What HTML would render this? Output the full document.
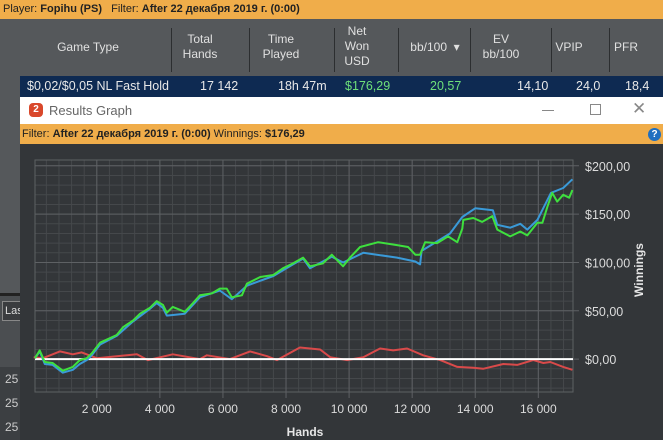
<!DOCTYPE html>
<html><head><meta charset="utf-8">
<style>
body{margin:0;width:663px;height:440px;overflow:hidden;background:#55585b;font-family:"Liberation Sans","Noto Sans CJK SC",sans-serif;position:relative}
.abs{position:absolute}
.hdr{color:#e0e0e0;font-size:12px;line-height:15px;text-align:center}
.cell{position:absolute;top:79px;font-size:12.5px;color:#e8e8e8;white-space:nowrap}
.vl{position:absolute;top:28px;width:1px;height:44px;background:#2c2e30}
</style></head><body>
<div class="abs" style="left:0;top:0;width:663px;height:19px;background:#f0ad4a;font-size:11px;line-height:19px;color:#222;padding-left:3px">Player: <b>Fopihu (PS)</b>&nbsp;&nbsp; Filter: <b>After 22 декабря 2019 г. (0:00)</b></div>
<div class="abs" style="left:2px;top:20px;width:14px;height:32px;background:#111;color:#eee;font-size:9px;writing-mode:vertical-rl;transform:rotate(180deg);text-align:center;font-weight:bold">Stats</div>
<div class="abs" style="left:0;top:19px;width:20px;height:274px;background:#55585b"></div>
<div class="abs" style="left:0;top:293px;width:20px;height:3px;background:#222"></div>
<div class="abs" style="left:0;top:296px;width:20px;height:71px;background:#4b4e51"></div>
<div class="abs" style="left:0;top:367px;width:20px;height:73px;background:#3c3f42"></div>
<div class="abs" style="left:2px;top:301px;width:18px;height:18px;border:1px solid #888;border-right:none;background:#3a3c3f;color:#ddd;font-size:11px;line-height:18px;padding-left:2px;overflow:hidden">Las</div>
<div class="abs" style="left:5px;top:372px;color:#ccc;font-size:12px">25</div>
<div class="abs" style="left:5px;top:396px;color:#ccc;font-size:12px">25</div>
<div class="abs" style="left:5px;top:420px;color:#ccc;font-size:12px">25</div>

<div class="vl" style="left:171px"></div><div class="vl" style="left:249px"></div><div class="vl" style="left:334px"></div><div class="vl" style="left:398px"></div><div class="vl" style="left:470px"></div><div class="vl" style="left:551px"></div><div class="vl" style="left:609px"></div>
<div class="abs hdr" style="left:38px;top:40px;width:100px">Game Type</div>
<div class="abs hdr" style="left:170px;top:32px;width:60px">Total<br>Hands</div>
<div class="abs hdr" style="left:251px;top:32px;width:60px">Time<br>Played</div>
<div class="abs hdr" style="left:332px;top:24px;width:50px">Net<br>Won<br>USD</div>
<div class="abs hdr" style="left:400px;top:40px;width:70px">bb/100 &nbsp;▾</div>
<div class="abs hdr" style="left:471px;top:32px;width:60px">EV<br>bb/100</div>
<div class="abs hdr" style="left:549px;top:40px;width:40px">VPIP</div>
<div class="abs hdr" style="left:611px;top:40px;width:30px">PFR</div>

<div class="abs" style="left:20px;top:76px;width:643px;height:21px;background:#0e2a52"></div>
<div class="cell" style="left:27px">$0,02/$0,05 NL Fast Hold</div>
<div class="cell" style="left:200px">17 142</div>
<div class="cell" style="left:278px">18h 47m</div>
<div class="cell" style="left:345px;color:#6ee07a">$176,29</div>
<div class="cell" style="left:430px;color:#6ee07a">20,57</div>
<div class="cell" style="left:517px">14,10</div>
<div class="cell" style="left:576px">24,0</div>
<div class="cell" style="left:625px">18,4</div>

<div class="abs" style="left:20px;top:97px;width:643px;height:27px;background:#fff"></div>
<div class="abs" style="left:29px;top:103px;width:14px;height:14px;border-radius:4px;background:#d9482b;color:#fff;font-size:10px;font-weight:bold;text-align:center;line-height:14px">2</div>
<div class="abs" style="left:49px;top:103px;font-size:13px;color:#666">Results Graph</div>
<div class="abs" style="left:542px;top:110px;width:12px;height:1px;background:#888"></div>
<div class="abs" style="left:590px;top:104px;width:9px;height:9px;border:1px solid #888"></div>
<div class="abs" style="left:632px;top:99px;font-size:17px;color:#888">✕</div>
<div class="abs" style="left:20px;top:124px;width:643px;height:20px;background:#f0ad4a;font-size:11px;line-height:20px;color:#222;padding-left:2px">Filter: <b>After 22 декабря 2019 г. (0:00)</b> Winnings: <b>$176,29</b></div>
<div class="abs" style="left:648px;top:128px;width:13px;height:13px;border-radius:50%;background:#1f6fc0;color:#fff;font-size:10px;font-weight:bold;text-align:center;line-height:13px">?</div>

<svg class="abs" style="left:20px;top:144px" width="643" height="296">
<rect x="0" y="0" width="643" height="296" fill="#333639"/>
<g id="grid" transform="translate(-20,-144)"></g>
<g id="plot" transform="translate(-20,-144)"></g>
</svg>
<script>
const xTicks=[2000,4000,6000,8000,10000,12000,14000,16000];
const xTickLabels=['2 000','4 000','6 000','8 000','10 000','12 000','14 000','16 000'];
const yTicks=[0,50,100,150,200];
const yTickLabels=['$0,00','$50,00','$100,00','$150,00','$200,00'];
const greenHands=[40,190,350,600,920,1240,1460,1680,1840,2100,2300,2630,2830,3150,3370,3680,3900,4100,4220,4410,4790,5050,5270,5650,5900,6120,6280,6600,6760,7180,7600,7900,8220,8540,8760,9170,9450,9810,10030,10350,10920,11520,11870,12100,12250,12410,12790,13140,13430,13590,13620,13940,14220,14540,14700,15110,15430,15650,15970,16130,16290,16440,16600,16790,16980,17080];
const greenValues=[1,9,-3,-4,-12,-8,-1,1,6,17,20,25,33,40,47,53,60,56,48,54,49,58,66,68,73,73,64,66,78,85,87,94,99,105,96,99,108,96,105,116,121,118,116,108,108,121,120,127,121,135,144,146,142,148,134,127,132,128,141,141,158,172,163,170,167,175];
const blueHands=[40,190,350,600,920,1240,1460,1680,1840,2100,2630,3150,3680,3900,4100,4220,4790,5270,5900,6280,6760,7600,8220,8540,8760,9450,9810,10450,11520,12100,12250,12300,13200,13590,14000,14560,14700,15110,15430,15650,15970,16400,16790,17080];
const blueValues=[1,8,-5,-6,-14,-11,-5,-1,4,15,24,39,52,58,53,45,47,64,71,62,76,86,98,104,94,106,100,110,105,101,98,112,130,147,156,154,139,136,140,134,144,172,177,186];
const redHands=[0,290,830,1240,1520,2000,2630,3270,3620,4410,5270,5490,6220,6860,7400,7710,8440,9080,9400,9940,10450,10980,11400,11840,12350,12890,13430,13940,14250,14890,15330,15840,16160,16380,16790,17080];
const redValues=[2,1,8,5,7,1,3,5,-1,5,0,4,0,8,3,-1,12,10,2,-1,2,11,9,11,4,-1,-8,-9,-10,-5,-6,-1,-4,-3,-8,-11];
const X0=35,X1=573,Y0=160,Y1=392,H0=40,H1=17100,V0=-34,V1=206;
function xs(h){return X0+(h-H0)/(H1-H0)*(X1-X0);}
function ys(v){return Y1-(v-V0)/(V1-V0)*(Y1-Y0);}
const NS='http://www.w3.org/2000/svg';
const grid=document.getElementById('grid'),plot=document.getElementById('plot');
function mk(tag,attrs,parent){const e=document.createElementNS(NS,tag);for(const k in attrs)e.setAttribute(k,attrs[k]);parent.appendChild(e);return e;}
for(let h=400;h<17100;h+=400){const l=mk('line',{x1:xs(h),x2:xs(h),y1:Y0,y2:Y1,stroke:'#45484b'},grid);

}
for(let v=-30;v<=200;v+=10){const l=mk('line',{x1:X0,x2:X1,y1:ys(v),y2:ys(v),stroke:'#45484b'},grid);

}
xTicks.forEach((t,i)=>{const l=mk('line',{x1:xs(t),x2:xs(t),y1:Y0,y2:Y1+6,stroke:'#5e6164'},grid);


const tx=mk('text',{x:xs(t),y:413,fill:'#dcdcdc','font-size':'12','text-anchor':'middle','font-family':'Liberation Sans, sans-serif'},grid);tx.textContent=xTickLabels[i];

});
yTicks.forEach((t,i)=>{const l=mk('line',{x1:X0,x2:X1+6,y1:ys(t),y2:ys(t),stroke:'#5e6164'},grid);


const tx=mk('text',{x:585,y:ys(t)+5,fill:'#dcdcdc','font-size':'12.5','font-family':'Liberation Sans, sans-serif'},grid);tx.textContent=yTickLabels[i];

});
const fr=mk('rect',{x:X0,y:Y0,width:X1-X0,height:Y1-Y0,fill:'none',stroke:'#5e6164'},grid);


const xt=mk('text',{x:305,y:436,fill:'#e6e6e6','font-size':'12','font-weight':'bold','text-anchor':'middle','font-family':'Liberation Sans, sans-serif'},grid);xt.textContent='Hands';


const yt=mk('text',{x:0,y:0,fill:'#e6e6e6','font-size':'12','font-weight':'bold','text-anchor':'middle','transform':'translate(643,270) rotate(-90)','font-family':'Liberation Sans, sans-serif'},grid);yt.textContent='Winnings';


function line(hs,vs,color,name){const pts=hs.map((h,i)=>xs(h).toFixed(1)+','+ys(vs[i]).toFixed(1)).join(' ');
const p=mk('polyline',{points:pts,fill:'none',stroke:color,'stroke-width':'2','stroke-linejoin':'round'},plot);

}
line(redHands,redValues,'#d94a4a','all-in-ev-diff-line');
const z=mk('line',{x1:X0,x2:X1,y1:ys(0),y2:ys(0),stroke:'#ffffff','stroke-width':'2'},plot);


line(blueHands,blueValues,'#3a9ad8','all-in-ev-line');
line(greenHands,greenValues,'#3ee03e','net-won-line');
</script>
</body></html>
